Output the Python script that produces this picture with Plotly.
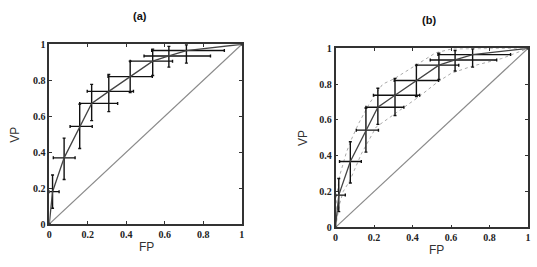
import plotly.graph_objects as go

# ROC points (FP, VP) with asymmetric error bars
fp = [0.0, 0.017, 0.077, 0.158, 0.22, 0.309, 0.42, 0.537, 0.621, 0.712, 1.0]
vp = [0.0, 0.18, 0.368, 0.543, 0.671, 0.738, 0.82, 0.906, 0.935, 0.965, 1.0]
fp_err_plus = [0, 0.034, 0.057, 0.065, 0.135, 0.128, 0.115, 0.103, 0.216, 0.197, 0]
fp_err_minus = [0, 0.017, 0.056, 0.05, 0.062, 0.112, 0.115, 0.117, 0.129, 0.18, 0]
vp_err_plus = [0, 0.093, 0.11, 0.124, 0.106, 0.094, 0.086, 0.067, 0.053, 0.032, 0]
vp_err_minus = [0, 0.092, 0.12, 0.123, 0.096, 0.113, 0.089, 0.08, 0.062, 0.07, 0]

# confidence envelope (panel b)
upper_fp = [0.0, 0.005, 0.022, 0.057, 0.082, 0.12, 0.177, 0.245, 0.305, 0.417, 0.52, 0.605, 1.0]
upper_vp = [0.0, 0.17, 0.29, 0.42, 0.49, 0.58, 0.694, 0.80, 0.83, 0.907, 0.975, 0.997, 1.0]
lower_fp = [0.0, 0.022, 0.04, 0.074, 0.134, 0.211, 0.305, 0.434, 0.528, 0.6, 0.708, 0.863, 1.0]
lower_vp = [0.0, 0.133, 0.2, 0.26, 0.41, 0.56, 0.632, 0.73, 0.81, 0.86, 0.9, 0.943, 1.0]

diag = [0, 1]
ticks = [0, 0.2, 0.4, 0.6, 0.8, 1]
tick_text = ["0", "0.2", "0.4", "0.6", "0.8", "1"]

fig = go.Figure()

def add_panel(xa, ya):
    fig.add_trace(go.Scatter(x=diag, y=diag, mode="lines",
                             line=dict(color="#8a8a8a", width=1.2),
                             xaxis=xa, yaxis=ya, showlegend=False, hoverinfo="skip"))
    fig.add_trace(go.Scatter(
        x=fp, y=vp, mode="lines",
        line=dict(color="#444444", width=1.3),
        error_x=dict(type="data", symmetric=False, array=fp_err_plus, arrayminus=fp_err_minus,
                     color="#111111", thickness=1.4, width=1.5),
        error_y=dict(type="data", symmetric=False, array=vp_err_plus, arrayminus=vp_err_minus,
                     color="#111111", thickness=1.4, width=1.5),
        xaxis=xa, yaxis=ya, showlegend=False))

add_panel("x", "y")
for ex, ey in [(upper_fp, upper_vp), (lower_fp, lower_vp)]:
    fig.add_trace(go.Scatter(x=ex, y=ey, mode="lines", line=dict(color="#aaaaaa", width=1, dash="dot"),
                             xaxis="x2", yaxis="y2", showlegend=False, hoverinfo="skip"))
add_panel("x2", "y2")

axis_common = dict(range=[0, 1], tickvals=ticks, ticktext=tick_text, ticks="inside", ticklen=3,
                   tickcolor="#333", showline=True, linecolor="#333", linewidth=1.5, mirror="ticks",
                   showgrid=False, zeroline=False,
                   tickfont=dict(family="Liberation Serif", size=10, color="#222", weight="bold"))

fig.update_layout(
    width=537, height=267, margin=dict(l=0, r=0, t=0, b=0),
    paper_bgcolor="white", plot_bgcolor="white",
    xaxis=dict(domain=[0.087, 0.449], anchor="y", **axis_common),
    yaxis=dict(domain=[0.145, 0.850], anchor="x", **axis_common),
    xaxis2=dict(domain=[0.625, 0.987], anchor="y2", **axis_common),
    yaxis2=dict(domain=[0.132, 0.834], anchor="x2", **axis_common),
)

lab_font = dict(family="Liberation Sans", size=12, color="#333")
ann = [
    dict(x=138, y=10, text="<b>(a)</b>", font=dict(family="Liberation Sans", size=11, color="#111")),
    dict(x=430, y=15, text="<b>(b)</b>", font=dict(family="Liberation Sans", size=11, color="#111")),
    dict(x=145, y=252, text="FP", font=lab_font),
    dict(x=438, y=256, text="FP", font=lab_font),
    dict(x=12, y=135, text="VP", font=lab_font, textangle=-90),
    dict(x=303, y=138, text="VP", font=lab_font, textangle=-90),
]
for a in ann:
    fig.add_annotation(x=a["x"] / 537, y=1 - a["y"] / 267, xref="paper", yref="paper",
                       text=a["text"], showarrow=False, font=a["font"],
                       textangle=a.get("textangle", 0), xanchor="center", yanchor="middle")

fig.write_html("out.html")
